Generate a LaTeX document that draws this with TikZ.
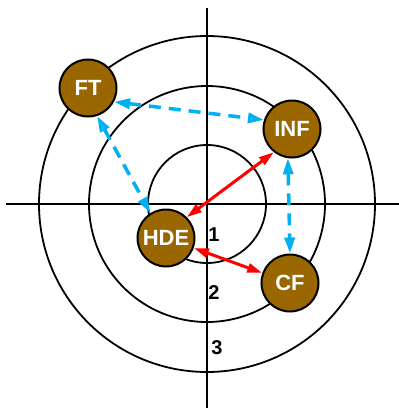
\documentclass[tikz,border=0pt]{standalone}
\usepackage{fontspec}
\setmainfont{Liberation Sans}
\usetikzlibrary{arrows.meta}
\definecolor{tgtbrown}{HTML}{996600}
\definecolor{tgtblue}{HTML}{00B0F0}
\definecolor{tgtred}{HTML}{FF0000}
\tikzset{
  axis/.style={draw=black, line width=1.8pt},
  ring/.style={draw=black, line width=1.8pt},
  unit/.style={circle, draw=black, line width=2pt, fill=tgtbrown, minimum size=57pt, inner sep=0pt, text=white, font=\fontsize{22}{24}\selectfont\bfseries},
  num/.style={font=\fontsize{20}{22}\selectfont\bfseries, inner sep=0pt},
  lnk/.style={{Triangle[length=16pt, width=10pt]}-{Triangle[length=16pt, width=10pt]}, line width=3.5pt, dash pattern=on 12pt off 8pt, color=tgtblue},
  hot/.style={{Triangle[length=15pt, width=9pt]}-{Triangle[length=15pt, width=9pt]}, line width=3pt, color=tgtred},
}
\begin{document}
\begin{tikzpicture}[x=1pt, y=-1pt]
    \useasboundingbox (0,0) rectangle (399,408);
    \coordinate (o) at (207,204);
    % target
    \draw[axis] (6,204) -- (399,204);
    \draw[axis] (207,8) -- (207,408);
    \foreach \r in {59,118,168}
      \draw[ring] (o) circle[radius=\r];
    \node[num] (n1) at (214,235) {1};
    \node[num] (n2) at (214,293) {2};
    \node[num] (n3) at (217,348) {3};
    % units
    \node[unit] (FT) at (88,88) {FT};
    \node[unit] (INF) at (292,129) {INF};
    \node[unit] (HDE) at (166,238) {HDE};
    \node[unit] (CF) at (290,283) {CF};
    % links
    \draw[lnk] (FT.-28) -- (INF.162);
    \draw[lnk] (FT.-72) -- (HDE.122);
    \draw[lnk] (INF.-98) -- (CF.90);
    \draw[hot] (INF.-128) -- (HDE.45);
    \draw[hot] (HDE) -- (CF);
  \end{tikzpicture}
\end{document}
